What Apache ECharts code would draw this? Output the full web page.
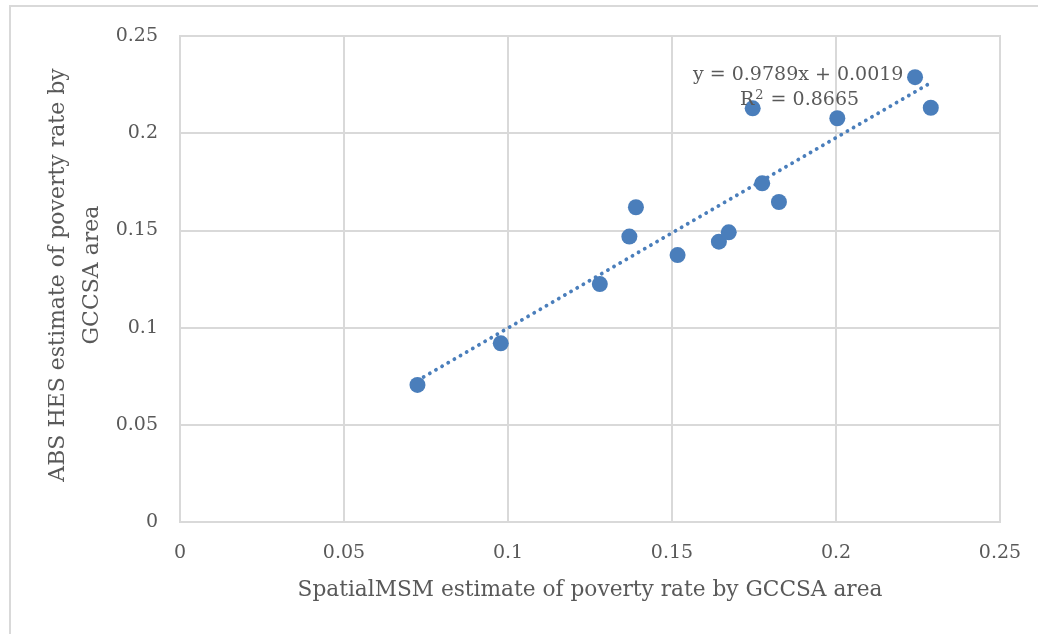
<!DOCTYPE html>
<html>
<head>
<meta charset="utf-8">
<script src="https://cdn.jsdelivr.net/npm/echarts@6/dist/echarts.min.js"></script>
<style>
  html, body { margin: 0; padding: 0; background: #fff; }
  #chart { width: 1038px; height: 634px; }
</style>
</head>
<body>
<div id="chart"></div>
<script>
// SpatialMSM vs ABS HES poverty rate estimates, one point per GCCSA area
const spatialMsm = [0.0724, 0.0978, 0.1280, 0.1370, 0.1390, 0.1517, 0.1643, 0.1673, 0.1746, 0.1775, 0.1826, 0.2004, 0.2241, 0.2289];
const absHes     = [0.0705, 0.0919, 0.1224, 0.1468, 0.1619, 0.1373, 0.1442, 0.1490, 0.2128, 0.1742, 0.1646, 0.2077, 0.2288, 0.2131];

// Linear trendline coefficients
const slope = 0.9789;
const intercept = 0.0019;
const rSquared = 0.8665;

const xTicks = [0, 0.05, 0.1, 0.15, 0.2, 0.25];
const yTicks = [0, 0.05, 0.1, 0.15, 0.2, 0.25];

const points = spatialMsm.map((x, i) => [x, absHes[i]]);
const xMin = Math.min(...spatialMsm);
const xMax = Math.max(...spatialMsm);
const trend = [[xMin, slope * xMin + intercept], [xMax, slope * xMax + intercept]];

const FONT = '"DejaVu Serif", serif';
const TEXT = '#595959';
const GRID = '#d9d9d9';
const BLUE = '#4a7ebb';

const chart = echarts.init(document.getElementById('chart'), null, { renderer: 'canvas' });
chart.setOption({
  backgroundColor: '#fff',
  animation: false,
  grid: {
    left: 180, top: 36, right: 38, bottom: 112,
    show: true, borderColor: GRID, borderWidth: 2, backgroundColor: '#fff'
  },
  xAxis: {
    type: 'value', min: 0, max: 0.25, interval: 0.05,
    axisLine: { show: true, lineStyle: { color: GRID, width: 2 } },
    axisTick: { show: false },
    splitLine: { show: true, lineStyle: { color: GRID, width: 2 } },
    axisLabel: {
      color: TEXT, fontFamily: FONT, fontSize: 19, margin: 22,
      formatter: v => String(xTicks.find(t => Math.abs(t - v) < 1e-9) ?? v)
    },
    name: 'SpatialMSM estimate of poverty rate by GCCSA area',
    nameLocation: 'middle', nameGap: 57,
    nameTextStyle: { color: TEXT, fontFamily: FONT, fontSize: 21.7 }
  },
  yAxis: {
    type: 'value', min: 0, max: 0.25, interval: 0.05,
    axisLine: { show: true, lineStyle: { color: GRID, width: 2 } },
    axisTick: { show: false },
    splitLine: { show: true, lineStyle: { color: GRID, width: 2 } },
    axisLabel: {
      color: TEXT, fontFamily: FONT, fontSize: 19, margin: 22,
      formatter: v => String(yTicks.find(t => Math.abs(t - v) < 1e-9) ?? v)
    }
  },
  series: [
    {
      type: 'line',
      data: trend,
      symbol: 'none',
      silent: true,
      lineStyle: { color: BLUE, width: 3.8, type: [0.1, 7], cap: 'round' },
      z: 2
    },
    {
      type: 'scatter',
      data: points,
      symbol: 'circle',
      symbolSize: 16,
      itemStyle: { color: BLUE, opacity: 1 },
      z: 3
    }
  ],
  graphic: [
    {
      type: 'rect', silent: true, z: -10,
      shape: { x: 10, y: 6, width: 1100, height: 700 },
      style: { fill: 'none', stroke: GRID, lineWidth: 2 }
    },
    {
      // vertical y-axis title, two lines
      type: 'text', z: 10,
      x: 75, y: 275, rotation: Math.PI / 2,
      style: {
        text: 'ABS HES estimate of poverty rate by\nGCCSA area',
        fill: TEXT, fontFamily: FONT, fontSize: 22, lineHeight: 34,
        align: 'center', verticalAlign: 'middle'
      }
    },
    {
      type: 'text', z: 10,
      left: 693, top: 66,
      style: {
        text: 'y = ' + slope + 'x + ' + intercept.toFixed(4),
        fill: TEXT, font: '19px ' + FONT
      }
    },
    {
      type: 'text', z: 10,
      left: 740, top: 89,
      style: {
        text: '{b|R}{s|2}{b| = ' + rSquared + '}',
        rich: {
          b: { fill: TEXT, fontFamily: FONT, fontSize: 19, verticalAlign: 'bottom' },
          s: { fill: TEXT, fontFamily: FONT, fontSize: 13, verticalAlign: 'top', padding: [0, 1, 8, 1] }
        }
      }
    }
  ]
});
</script>
</body>
</html>
